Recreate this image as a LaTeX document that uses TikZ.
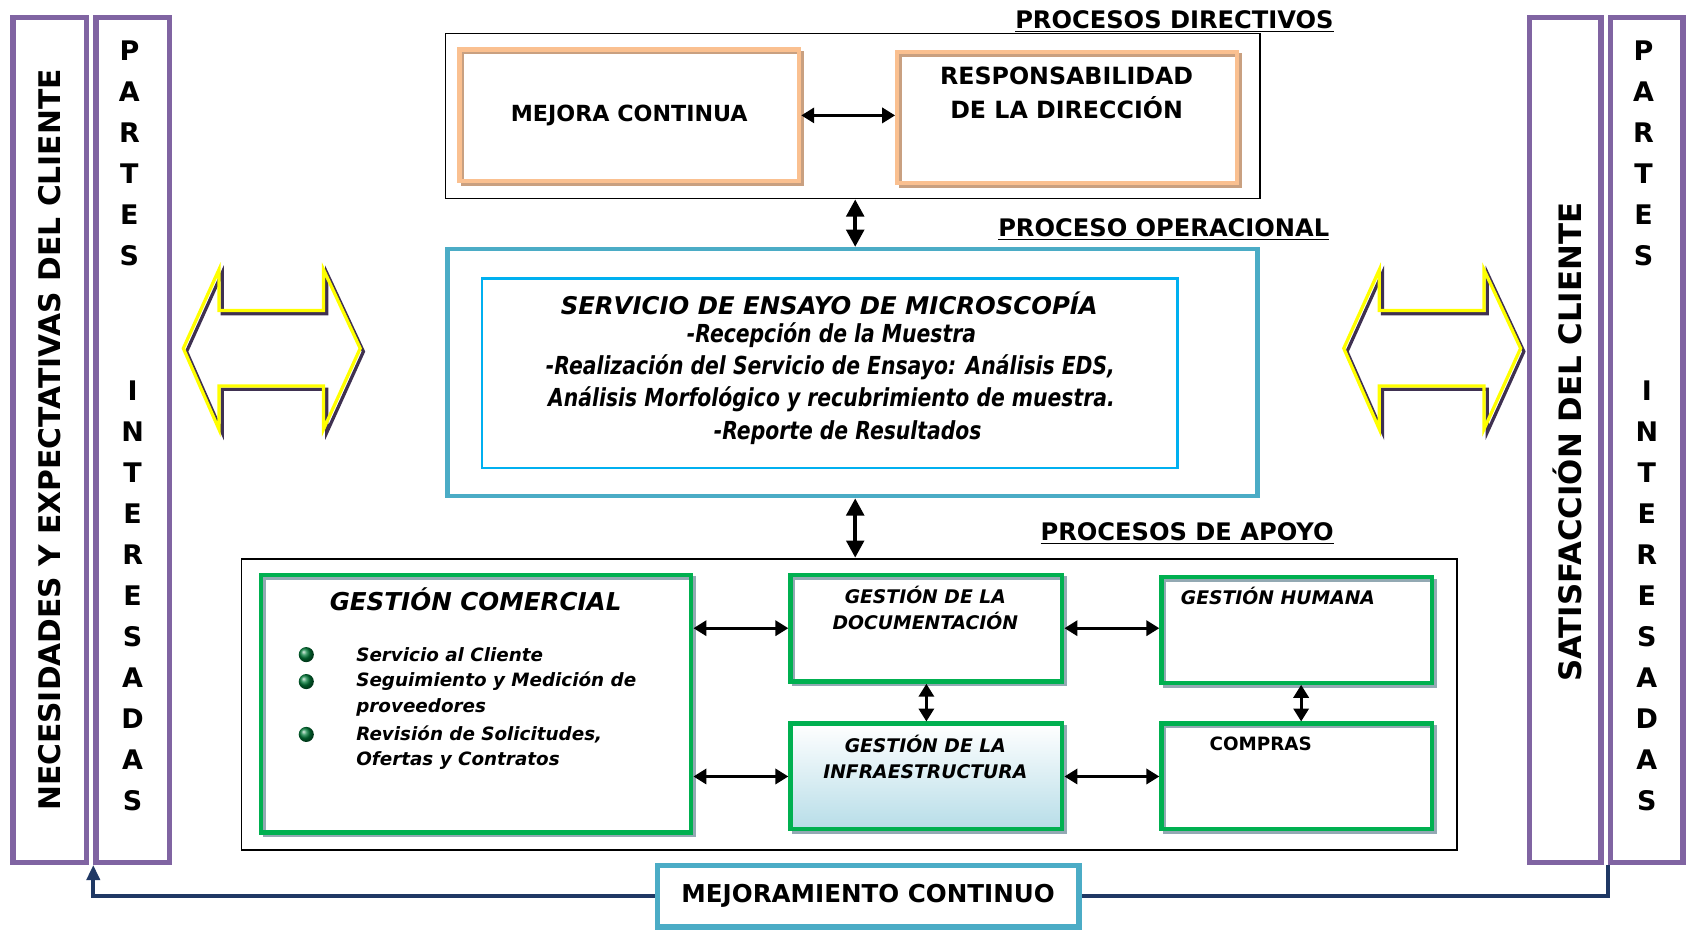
\documentclass[tikz,border=0pt]{standalone}
\usepackage{fontspec}
\setmainfont{DejaVu Sans}
\newfontfamily\estrecha{DejaVu Sans}[FakeStretch=0.82]
\usetikzlibrary{arrows.meta}
\definecolor{morado}{HTML}{8064A2}
\definecolor{naranja}{HTML}{FAC090}
\definecolor{sombranar}{HTML}{C9A080}
\definecolor{verde}{HTML}{00B050}
\definecolor{sombraver}{HTML}{93A9B3}
\definecolor{azul}{HTML}{4BACC6}
\definecolor{celeste}{HTML}{00B0F0}
\definecolor{marino}{HTML}{1F3864}
\definecolor{amarillo}{HTML}{FFFF00}
\definecolor{sombraam}{HTML}{3F3151}
\definecolor{degradado}{HTML}{B7DDE8}
\begin{document}
\begin{tikzpicture}[x=0.5pt,y=-0.5pt,
  marco/.style={draw=morado,line width=2.5pt,inner sep=0pt,minimum width=34pt,minimum height=391.5pt},
  caja/.style={draw=black,line width=0.8pt,inner sep=0pt},
  naranjo/.style={draw=naranja,line width=2pt,inner sep=0pt,minimum width=157.5pt,minimum height=61pt,
    preaction={draw=sombranar,line width=1.5pt,transform canvas={shift={(1.5pt,-1.5pt)}}}},
  verdecaja/.style={draw=verde,line width=2pt,inner sep=0pt,
    preaction={draw=sombraver,line width=1.5pt,transform canvas={shift={(1.5pt,-1.5pt)}}}},
  flecha/.style={line width=1.4pt,{Triangle[length=6pt,width=7pt]}-{Triangle[length=6pt,width=7pt]}},
  flechav/.style={line width=2pt,{Triangle[length=8pt,width=8pt]}-{Triangle[length=8pt,width=8pt]}},
  retro/.style={draw=marino,line width=2pt},
  letra/.style={font=\bfseries\fontsize{12.5}{14}\selectfont,inner sep=0pt},
  lateral/.style={rotate=90,font=\bfseries\fontsize{13.8}{16}\selectfont,inner sep=0pt},
  encabezado/.style={font=\bfseries\fontsize{11.2}{13}\selectfont,anchor=base east,inner sep=0pt},
  servtxt/.style={font=\estrecha\bfseries\itshape\fontsize{11.5}{13}\selectfont,inner sep=0pt},
  gestion/.style={font=\bfseries\itshape\fontsize{8.7}{12}\selectfont,align=center,inner sep=0pt},
  item/.style={font=\bfseries\itshape\fontsize{8.5}{10}\selectfont,anchor=west,inner sep=0pt},
  bolita/.style={circle,inner sep=0pt,minimum size=7pt,ball color=verde!70!black}]
\useasboundingbox (0,0) rectangle (1568,867);
% columnas laterales
\node[marco] (necesidades) at (46,408) {};
\node[marco] (partesL) at (123,408) {};
\node[marco,minimum width=33pt] (satisf) at (1451.5,408) {};
\node[marco,minimum width=33.5pt] (partesR) at (1527,408) {};
\node[lateral] (tnec) at (46,408) {NECESIDADES Y EXPECTATIVAS DEL CLIENTE};
\node[lateral,font=\bfseries\fontsize{14.3}{16}\selectfont] (tsat) at (1453,410) {SATISFACCIÓN DEL CLIENTE};
\foreach \x/\s in {120/L,1524/R} {
  \foreach \l [count=\i] in {P,A,R,T,E,S}
    \node[letra] (p\s\i) at (\x,{9+38*\i}) {\l};
  \foreach \l [count=\i] in {I,N,T,E,R,E,S,A,D,A,S}
    \node[letra] (i\s\i) at (\x+3,{324+38*\i}) {\l};
}
% flechas amarillas
\foreach \dx in {0,1076}
  \foreach \c/\s in {sombraam/3,amarillo/0}
    \draw[\c,line width=1.5pt,shift={(\dx+\s,\s)}] (170,323) -- (203,250) -- (203,288) -- (300,288) -- (300,250) -- (334,323)
      -- (300,398) -- (300,358) -- (203,358) -- (203,398) -- cycle;
% procesos directivos
\node[encabezado] (tdir) at (1237,26) {\underline{PROCESOS DIRECTIVOS}};
\node[caja,minimum width=377.5pt,minimum height=76.5pt] (directivos) at (790.5,107.5) {};
\node[naranjo,font=\bfseries\fontsize{10.3}{12}\selectfont] (mejora) at (583.5,107) {MEJORA CONTINUA};
\node[naranjo] (resp) at (989.5,109) {};
\node[font=\bfseries\fontsize{11}{15.5}\selectfont,align=center] (tresp) at (989,86) {RESPONSABILIDAD\\DE LA DIRECCIÓN};
\draw[flecha] (mejora.east) -- (mejora.east -| resp.west);
% proceso operacional
\node[encabezado] (toper) at (1233,219) {\underline{PROCESO OPERACIONAL}};
\node[draw=azul,line width=2pt,minimum width=375.5pt,minimum height=114.5pt] (operacional) at (790.5,345.5) {};
\node[draw=celeste,line width=1.2pt,minimum width=322.5pt,minimum height=88pt] (servicio) at (769.5,346) {};
\node[font=\bfseries\itshape\fontsize{11.3}{13}\selectfont,inner sep=0pt] (s0) at (769,281) {SERVICIO DE ENSAYO DE MICROSCOPÍA};
\node[servtxt] (s1) at (771,311) {-Recepción de la Muestra};
\node[servtxt] (s2) at (770,341) {-Realización del Servicio de Ensayo: Análisis EDS,};
\node[servtxt] (s3) at (771,370) {Análisis Morfológico y recubrimiento de muestra.};
\node[servtxt] (s4) at (786,401) {-Reporte de Resultados};
\draw[flechav] ([xshift=1.25pt]directivos.south) -- ([xshift=1.25pt]operacional.north);
% procesos de apoyo
\node[encabezado] (tapoyo) at (1237,501) {\underline{PROCESOS DE APOYO}};
\node[caja,minimum width=563.5pt,minimum height=135pt] (apoyo) at (787.5,653) {};
\draw[flechav] ([xshift=1.25pt]operacional.south) -- ([xshift=1.25pt]operacional.south |- apoyo.north);
\node[verdecaja,minimum width=199.5pt,minimum height=119.5pt] (comercial) at (441.5,652.5) {};
\node[verdecaja,minimum width=126pt,minimum height=49.5pt] (docu) at (859,582.5) {};
\node[verdecaja,minimum width=125.5pt,minimum height=49pt] (humana) at (1202.5,584) {};
\node[verdecaja,minimum width=126pt,minimum height=49pt,top color=white,bottom color=degradado] (infra) at (859,720) {};
\node[verdecaja,minimum width=125.5pt,minimum height=49pt] (compras) at (1202.5,720) {};
\node[font=\bfseries\itshape\fontsize{11.4}{13}\selectfont,inner sep=0pt] (tcom) at (441,556) {GESTIÓN COMERCIAL};
\foreach \y [count=\i] in {607,632,681}
  \node[bolita] (b\i) at (284,\y) {};
\node[item] (c1) at (330,607) {Servicio al Cliente};
\node[item] (c2) at (330,632) {Seguimiento y Medición de};
\node[item] (c3) at (330,656) {proveedores};
\node[item] (c4) at (330,681) {Revisión de Solicitudes,};
\node[item] (c5) at (330,705) {Ofertas y Contratos};
\node[gestion] (tdoc) at (858,564) {GESTIÓN DE LA\\DOCUMENTACIÓN};
\node[gestion] (thum) at (1185,553) {GESTIÓN HUMANA};
\node[gestion] (tinf) at (858,702) {GESTIÓN DE LA\\INFRAESTRUCTURA};
\node[font=\bfseries\fontsize{8.5}{10}\selectfont,inner sep=0pt] (tcompras) at (1169,690) {COMPRAS};
\draw[flecha] (comercial.east |- docu.west) -- (docu.west);
\draw[flecha] (comercial.east |- infra.west) -- (infra.west);
\draw[flecha] (docu.east) -- (docu.east -| humana.west);
\draw[flecha] (infra.east) -- (compras.west);
\draw[flecha] (docu.south) -- (infra.north);
\draw[flecha] ([xshift=2pt]humana.south) -- ([xshift=2pt]compras.north);
% mejoramiento continuo
\node[draw=azul,line width=2.5pt,minimum width=195.5pt,minimum height=28.5pt,font=\bfseries\fontsize{11.4}{13}\selectfont] (mejoramiento) at (805,831) {MEJORAMIENTO CONTINUO};
\draw[retro] (partesR.south west) |- (mejoramiento.east);
\draw[retro,-{Triangle[length=7pt,width=6pt]}] (mejoramiento.west) -| (partesL.south west);
\end{tikzpicture}
\end{document}
